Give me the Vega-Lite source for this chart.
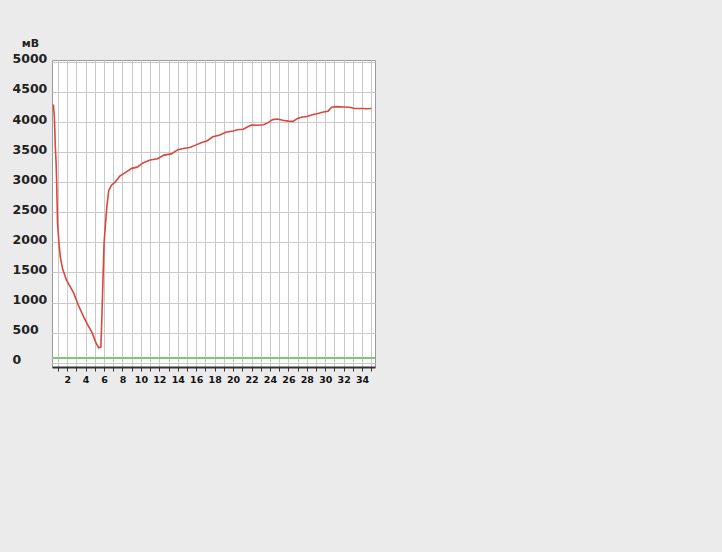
{
  "$schema": "https://vega.github.io/schema/vega-lite/v6.json",
  "autosize": {"type": "none"},
  "padding": {"left": 52, "top": 60, "right": 347, "bottom": 185},
  "width": 323,
  "height": 307,
  "background": "#ebebeb",
  "config": {
    "view": {"fill": "white", "stroke": "#9a9a9a", "strokeWidth": 1},
    "font": "DejaVu Sans"
  },
  "datasets": {
    "signal": [
      {"t": 0.5, "mv": 4290}, {"t": 0.6, "mv": 4100}, {"t": 0.65, "mv": 3900}, {"t": 0.7, "mv": 3620},
      {"t": 0.8, "mv": 3300}, {"t": 0.85, "mv": 3040}, {"t": 0.95, "mv": 2325}, {"t": 1.1, "mv": 2000},
      {"t": 1.25, "mv": 1760}, {"t": 1.5, "mv": 1560}, {"t": 1.9, "mv": 1380}, {"t": 2.3, "mv": 1270},
      {"t": 2.7, "mv": 1160}, {"t": 3.2, "mv": 960}, {"t": 3.8, "mv": 760}, {"t": 4.3, "mv": 610},
      {"t": 4.7, "mv": 500}, {"t": 5.1, "mv": 340}, {"t": 5.4, "mv": 250}, {"t": 5.65, "mv": 260},
      {"t": 5.75, "mv": 700}, {"t": 5.85, "mv": 1210}, {"t": 6.0, "mv": 1990}, {"t": 6.15, "mv": 2300},
      {"t": 6.3, "mv": 2590}, {"t": 6.5, "mv": 2860}, {"t": 6.8, "mv": 2950}, {"t": 7.2, "mv": 3000},
      {"t": 7.7, "mv": 3100}, {"t": 8.3, "mv": 3160}, {"t": 9.0, "mv": 3230}, {"t": 9.6, "mv": 3250},
      {"t": 10.2, "mv": 3320}, {"t": 11.0, "mv": 3370}, {"t": 11.8, "mv": 3390}, {"t": 12.5, "mv": 3450},
      {"t": 13.3, "mv": 3470}, {"t": 14.0, "mv": 3540}, {"t": 14.6, "mv": 3560}, {"t": 15.3, "mv": 3575},
      {"t": 16.0, "mv": 3620}, {"t": 16.6, "mv": 3660}, {"t": 17.2, "mv": 3690}, {"t": 17.8, "mv": 3755},
      {"t": 18.5, "mv": 3780}, {"t": 19.2, "mv": 3830}, {"t": 20.0, "mv": 3850}, {"t": 20.5, "mv": 3870},
      {"t": 21.1, "mv": 3880}, {"t": 21.6, "mv": 3920}, {"t": 22.0, "mv": 3950}, {"t": 22.6, "mv": 3945},
      {"t": 23.3, "mv": 3955}, {"t": 23.8, "mv": 3990}, {"t": 24.3, "mv": 4040}, {"t": 24.8, "mv": 4050},
      {"t": 25.4, "mv": 4030}, {"t": 26.0, "mv": 4015}, {"t": 26.5, "mv": 4010}, {"t": 27.0, "mv": 4060},
      {"t": 27.4, "mv": 4080}, {"t": 28.0, "mv": 4090}, {"t": 28.6, "mv": 4120}, {"t": 29.2, "mv": 4140},
      {"t": 29.8, "mv": 4165}, {"t": 30.3, "mv": 4180}, {"t": 30.7, "mv": 4245}, {"t": 31.2, "mv": 4255},
      {"t": 32.0, "mv": 4250}, {"t": 32.6, "mv": 4245}, {"t": 33.2, "mv": 4225}, {"t": 34.0, "mv": 4225},
      {"t": 34.5, "mv": 4220}, {"t": 35.0, "mv": 4225}
    ],
    "baseline": [{"level": 80}]
  },
  "encoding": {
    "y": {
      "type": "quantitative",
      "scale": {"domain": [-70, 5030], "nice": false, "zero": false},
      "axis": {
        "title": "мВ", "titleAngle": 0, "titleX": -22, "titleY": -17, "titleAlign": "center", "titleBaseline": "middle",
        "titleFont": "DejaVu Sans", "titleFontSize": 11, "titleFontWeight": "bold", "titleColor": "#222",
        "values": [0,500,1000,1500,2000,2500,3000,3500,4000,4500,5000],
        "format": "d",
        "grid": true, "gridColor": "#c9c9c9", "gridWidth": 1,
        "ticks": false, "tickSize": 0, "domain": false,
        "labelAlign": "left", "labelPadding": 40, "labelOffset": -3,
        "labelFont": "DejaVu Sans", "labelFontWeight": "bold", "labelFontSize": 12.5, "labelColor": "#222",
        "labelFlush": false, "labelOverlap": false
      }
    }
  },
  "layer": [
    {
      "data": {"name": "signal"},
      "mark": {"type": "line", "color": "#d9483c", "strokeWidth": 1.6, "clip": true},
      "encoding": {
        "x": {
          "field": "t", "type": "quantitative",
          "scale": {"domain": [0.35, 35.4], "nice": false, "zero": false},
          "axis": {
            "title": null,
            "values": [1,2,3,4,5,6,7,8,9,10,11,12,13,14,15,16,17,18,19,20,21,22,23,24,25,26,27,28,29,30,31,32,33,34,35],
            "labelExpr": "datum.value % 2 == 0 ? datum.label : ''",
            "grid": true, "gridColor": "#c9c9c9", "gridWidth": 1,
            "ticks": true, "tickSize": 4, "tickColor": "#333",
            "domain": true, "domainColor": "#333", "domainWidth": 2,
            "labelFont": "DejaVu Sans", "labelFontWeight": "bold", "labelFontSize": 9.5, "labelColor": "#111",
            "labelPadding": 3, "labelFlush": false, "labelOverlap": false
          }
        },
        "y": {"field": "mv"}
      }
    },
    {
      "data": {"name": "baseline"},
      "mark": {"type": "rule", "color": "#7dc873", "strokeWidth": 2},
      "encoding": {
        "y": {"field": "level"}
      }
    }
  ]
}
